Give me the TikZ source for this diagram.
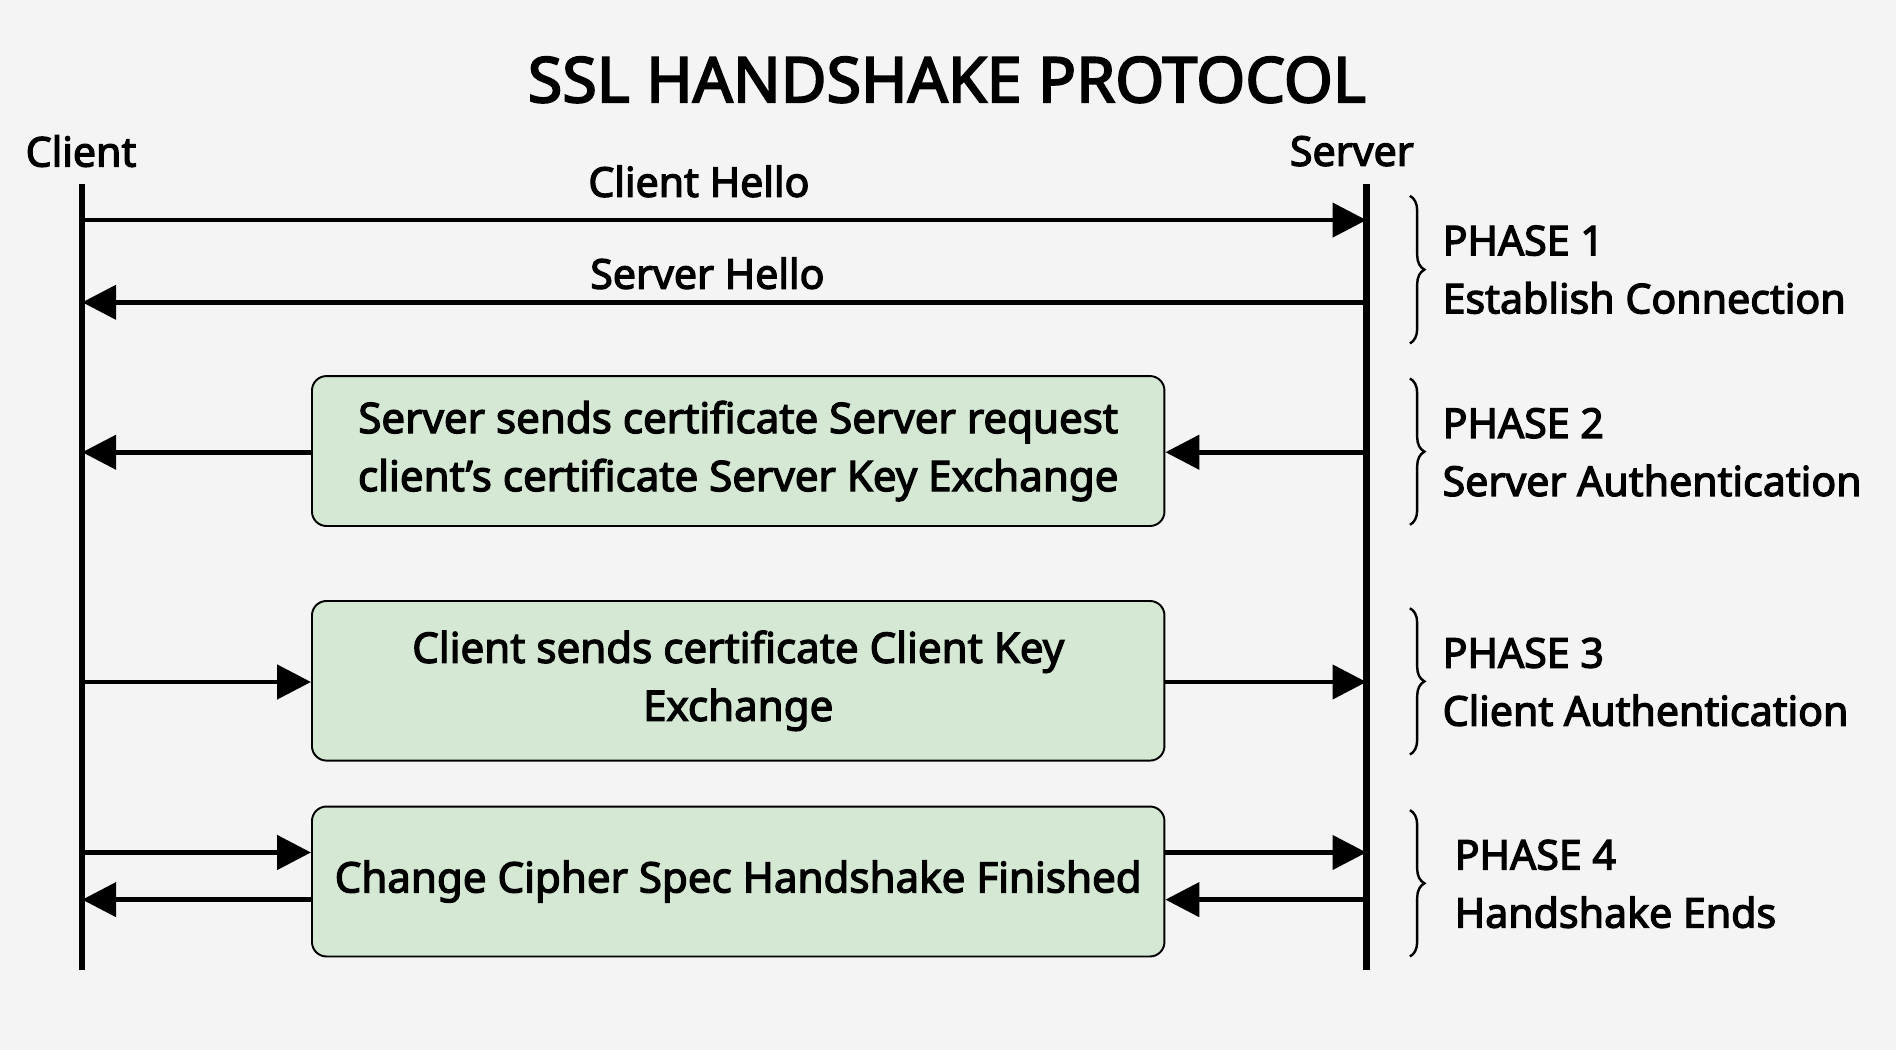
\documentclass[tikz,border=0pt]{standalone}
\usepackage{fontspec}
\setmainfont{Noto Sans}[FakeBold=0.9,AutoFakeBold=3]
\newfontfamily\tfont{Noto Sans}[FakeBold=3]
\usetikzlibrary{arrows.meta,decorations.pathreplacing}
\begin{document}
\begin{tikzpicture}[x=0.5pt,y=-0.5pt,
  life/.style={line width=2.6pt},
  msg/.style={line width=2pt,-{Triangle[length=14pt,width=14pt]}},
  gbox/.style={draw=black,line width=0.8pt,rounded corners=6pt,minimum width=352.5pt,align=center,font=\fontsize{17.4}{24}\selectfont\bfseries},
  lbl/.style={font=\fontsize{17}{20}\selectfont\bfseries},
  ph/.style={font=\fontsize{17}{24}\selectfont\bfseries,align=left,anchor=west},
  brc/.style={decorate,decoration={brace,amplitude=6pt},line width=1pt}]
\definecolor{bg}{HTML}{F4F4F4}
\definecolor{gfill}{HTML}{D5E8D4}
\fill[bg] (0,0) rectangle (1568,868);
\useasboundingbox (0,0) rectangle (1568,868);
\node[font=\fontsize{26}{30}\selectfont\tfont] (title) at (783,66) {SSL HANDSHAKE PROTOCOL};
\node[lbl] (cl) at (67,125) {Client};
\node[lbl] (sv) at (1118,125) {Server};
\coordinate (ct) at (68,152); \coordinate (cb) at (68,802);
\coordinate (st) at (1130,152); \coordinate (sb) at (1130,802);
\draw[life] (ct) -- (cb);
\draw[life] (st) -- (sb);
\coordinate (c1) at (68,182); \coordinate (s1) at (1130,182);
\coordinate (c2) at (68,250); \coordinate (s2) at (1130,250);
\draw[msg] (c1) -- (s1);
\draw[msg] (s2) -- (c2);
\node[lbl] (ch) at (578,150) {Client Hello};
\node[lbl] (sh) at (585,226) {Server Hello};
\node[gbox,fill=gfill,minimum height=62pt] (b1) at (610.5,373) {Server sends certificate Server request\\client\char"0027 s certificate Server Key Exchange};
\node[gbox,fill=gfill,minimum height=66pt] (b2) at (610.5,563) {Client sends certificate Client Key\\Exchange};
\node[gbox,fill=gfill,minimum height=62pt] (b3) at (610.5,729) {Change Cipher Spec Handshake Finished};
\coordinate (c3) at (68,374); \coordinate (s3) at (1130,374);
\draw[msg] (s3) -- (b1.east|-s3);
\draw[msg] (b1.west|-c3) -- (c3);
\coordinate (c4) at (68,564); \coordinate (s4) at (1130,564);
\draw[msg] (c4) -- (b2.west|-c4);
\draw[msg] (b2.east|-s4) -- (s4);
\coordinate (c5) at (68,705); \coordinate (s5) at (1130,705);
\coordinate (c6) at (68,744); \coordinate (s6) at (1130,744);
\draw[msg] (c5) -- (b3.west|-c5);
\draw[msg] (b3.east|-s5) -- (s5);
\draw[msg] (s6) -- (b3.east|-s6);
\draw[msg] (b3.west|-c6) -- (c6);
\draw[brc] (1166,162) -- (1166,284);
\draw[brc] (1166,313) -- (1166,434);
\draw[brc] (1166,503) -- (1166,624);
\draw[brc] (1166,670) -- (1166,791);
\node[ph] (p1) at (1186,223) {PHASE 1\\Establish Connection};
\node[ph] (p2) at (1186,374) {PHASE 2\\Server Authentication};
\node[ph] (p3) at (1186,564) {PHASE 3\\Client Authentication};
\node[ph] (p4) at (1196,731) {PHASE 4\\Handshake Ends};
\end{tikzpicture}
\end{document}
